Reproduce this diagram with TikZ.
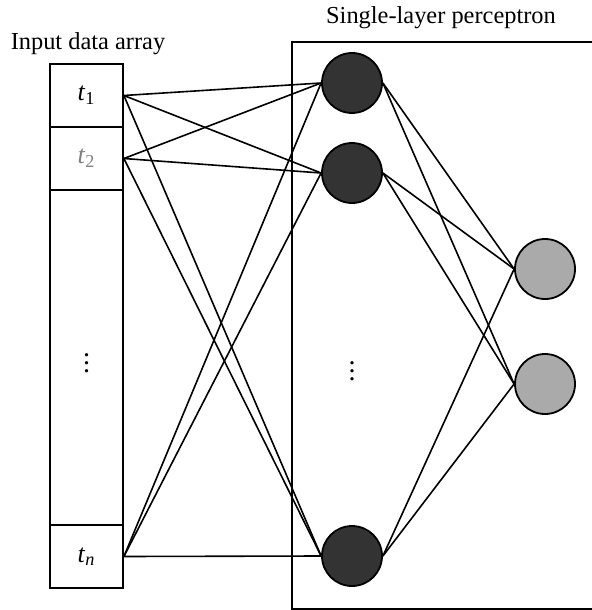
\documentclass[tikz,border=0pt]{standalone}
\usepackage{fontspec}
\setmainfont{Liberation Serif}
\usepackage{tikz}
\usetikzlibrary{positioning}

\definecolor{hiddenfill}{HTML}{333333}
\definecolor{outfill}{HTML}{AAAAAA}

\begin{document}
\begin{tikzpicture}[
      x=0.5pt, y=-0.5pt,
      lbl/.style={font=\fontsize{12.2}{14}\selectfont},
      cell/.style={draw, line width=0.9pt, minimum width=36.5pt, inner sep=0pt, font=\fontsize{13}{15}\selectfont},
      hid/.style={circle, draw, line width=0.9pt, fill=hiddenfill, minimum size=30pt, inner sep=0pt},
      outn/.style={circle, draw, line width=0.9pt, fill=outfill, minimum size=30pt, inner sep=0pt},
      dots/.style={font=\fontsize{14}{16}\selectfont, inner sep=0pt},
      wire/.style={line width=0.8pt}
    ]
    \useasboundingbox (0,0) rectangle (592,610);

    % Titoli
    \node[lbl] (intitle) at (88,44) {Input data array};
    \node[lbl] (pertitle) at (441,18) {Single-layer perceptron};

    % Riquadro del percettrone
    \draw[line width=0.9pt] (592,42) -- (292,42) -- (292,609) -- (592,609);

    % Vettore di ingresso
    \node[cell, minimum height=31.5pt] (t1) at (86.5,95.5) {\textit{t}\textsubscript{1}};
    \node[cell, minimum height=31.5pt, text=gray] (t2) at (86.5,158.5) {\textit{t}\textsubscript{2}};
    \node[cell, minimum height=167.5pt] (tmid) at (86.5,357.5) {};
    \node[cell, minimum height=31.5pt] (tn) at (86.5,556.5) {\textit{t}\textsubscript{\textit{n}}};
    \node[dots] (tdots) at (tmid) {$\vdots$};

    % Neuroni
    \node[hid] (h1) at (352,83) {};
    \node[hid] (h2) at (352,173) {};
    \node[dots] (hdots) at (352,365) {$\vdots$};
    \node[hid] (hn) at (352,556) {};
    \node[outn] (o1) at (545,269) {};
    \node[outn] (o2) at (545,384) {};

    % Collegamenti
    \foreach \s in {t1,t2,tn}
      \foreach \h in {h1,h2,hn}
        \draw[wire] (\s.east) -- (\h.west);
    \foreach \h in {h1,h2,hn}
      \foreach \o in {o1,o2}
        \draw[wire] (\h.east) -- (\o.west);
  \end{tikzpicture}
\end{document}
